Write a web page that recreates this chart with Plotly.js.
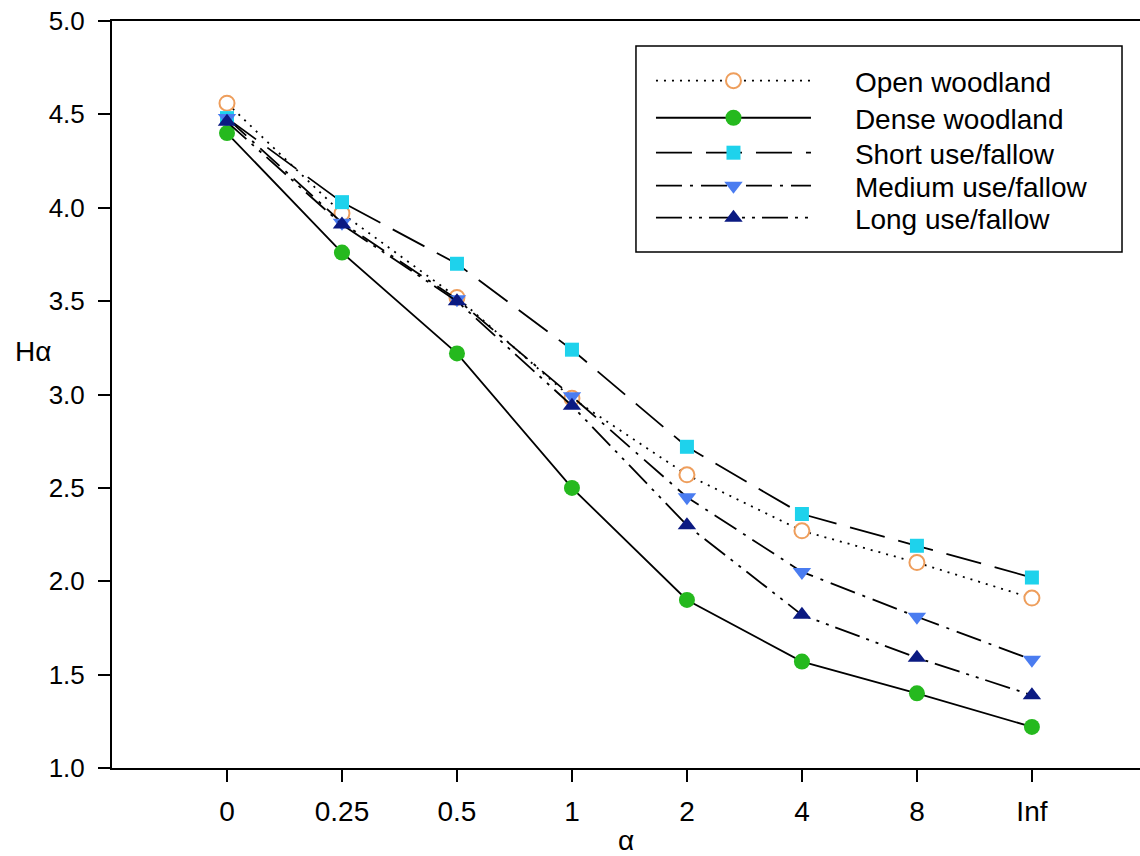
<!DOCTYPE html>
<html>
<head>
<meta charset="utf-8">
<script src="https://cdn.plot.ly/plotly-3.0.1.min.js"></script>
<style>html,body{margin:0;padding:0;background:#fff;}#chart{width:1140px;height:856px;}</style>
</head>
<body>
<div id="chart"></div>
<script>
const alphaLabels = ["0", "0.25", "0.5", "1", "2", "4", "8", "Inf"];
const openWoodland = [4.56, 3.97, 3.52, 2.98, 2.57, 2.27, 2.10, 1.91];
const denseWoodland = [4.40, 3.76, 3.22, 2.50, 1.90, 1.57, 1.40, 1.22];
const shortUse = [4.48, 4.03, 3.70, 3.24, 2.72, 2.36, 2.19, 2.02];
const mediumUse = [4.48, 3.92, 3.51, 2.99, 2.45, 2.05, 1.81, 1.58];
const longUse = [4.46, 3.91, 3.50, 2.94, 2.30, 1.82, 1.59, 1.39];
const seriesNames = ["Open woodland", "Dense woodland", "Short use/fallow", "Medium use/fallow", "Long use/fallow"];
const yTickVals = [1, 1.5, 2, 2.5, 3, 3.5, 4, 4.5, 5];
const yTickText = ["1.0", "1.5", "2.0", "2.5", "3.0", "3.5", "4.0", "4.5", "5.0"];

const idx = alphaLabels.map((_, i) => i);
const lineW = 1.8;
const pad = "\u00A0\u00A0\u00A0\u00A0\u00A0";
const fontFam = "Liberation Sans, Arial, sans-serif";

const styles = [
  {line: {color: "#000", width: lineW, dash: "2px,6px"},
   marker: {symbol: "circle", size: 15, color: "#fff", line: {width: 2, color: "#EE9E5C"}}},
  {line: {color: "#000", width: lineW, dash: "solid"},
   marker: {symbol: "circle", size: 16, color: "#25B91E", line: {width: 0}}},
  {line: {color: "#000", width: lineW, dash: "36px,14px"},
   marker: {symbol: "square", size: 14, color: "#1ED2EC", line: {width: 0}}},
  {line: {color: "#000", width: lineW, dash: "26px,8px,3px,8px"},
   marker: {symbol: "triangle-down", size: 16, color: "#4A7CF0", line: {width: 0}}},
  {line: {color: "#000", width: lineW, dash: "26px,7px,3px,7px,3px,7px"},
   marker: {symbol: "triangle-up", size: 16, color: "#0B1A82", line: {width: 0}}}
];
const seriesValues = [openWoodland, denseWoodland, shortUse, mediumUse, longUse];
const legendIds = ["legend", "legend2", "legend3", "legend4", "legend5"];
const legendY = [0.9197, 0.8701, 0.8233, 0.7791, 0.7363];

const traces = seriesValues.map((vals, i) => Object.assign({
  type: "scatter", mode: "lines+markers", x: idx, y: vals, cliponaxis: false,
  name: pad + seriesNames[i], legend: legendIds[i]
}, styles[i]));

const layout = {
  width: 1140, height: 856,
  margin: {l: 112, r: 0, t: 21, b: 88},
  paper_bgcolor: "#fff", plot_bgcolor: "#fff",
  font: {family: fontFam, color: "#000", size: 28},
  showlegend: true,
  shapes: [{
    type: "rect", xref: "paper", yref: "paper", x0: 0.5097, x1: 0.9825, y0: 0.6908, y1: 0.9665,
    line: {color: "#000", width: 1.5}, fillcolor: "#fff", layer: "above"
  }],
  xaxis: {
    range: [-1, 7.94], tickmode: "array", tickvals: idx, ticktext: alphaLabels,
    showgrid: false, zeroline: false, showline: true, linecolor: "#000", linewidth: 2,
    mirror: true, ticks: "outside", ticklen: 12, tickwidth: 2, tickcolor: "#000",
    ticklabelstandoff: 5,
    tickfont: {size: 28},
    title: {text: "α", standoff: 11, font: {size: 28}}
  },
  yaxis: {
    range: [1, 5], tickmode: "array", tickvals: yTickVals, ticktext: yTickText,
    showgrid: false, zeroline: false, showline: true, linecolor: "#000", linewidth: 2,
    ticks: "outside", ticklen: 12, tickwidth: 2, tickcolor: "#000",
    ticklabelstandoff: 8,
    tickfont: {size: 26}
  },
  annotations: [{
    text: "Hα", xref: "paper", yref: "paper", x: -0.0773, y: 0.557,
    xanchor: "center", yanchor: "middle", showarrow: false, font: {size: 28}
  }]
};

legendIds.forEach((id, i) => {
  layout[id] = {
    x: 0.5243, y: legendY[i], xanchor: "left", yanchor: "middle",
    bgcolor: "rgba(0,0,0,0)", borderwidth: 0,
    font: {size: 28, family: fontFam},
    itemwidth: 155, traceorder: "normal"
  };
});

Plotly.newPlot("chart", traces, layout, {displayModeBar: false, staticPlot: true});
</script>
</body>
</html>
